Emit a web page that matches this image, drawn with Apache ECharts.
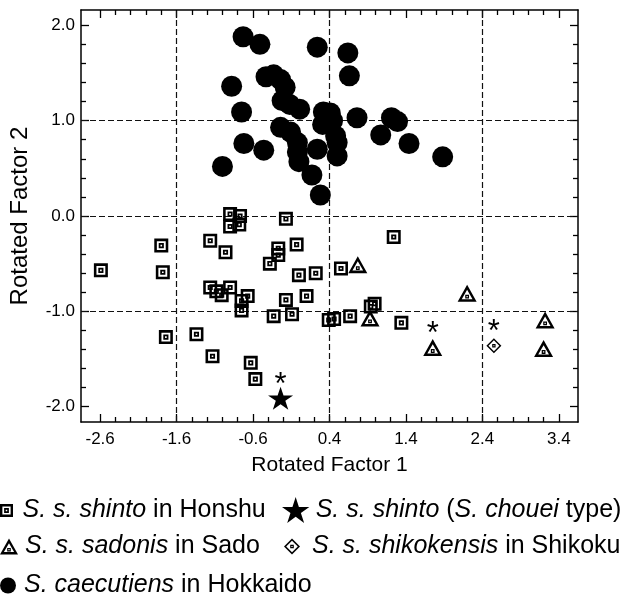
<!DOCTYPE html>
<html>
<head>
<meta charset="utf-8">
<script src="https://cdn.jsdelivr.net/npm/echarts@6/dist/echarts.min.js"></script>
<style>
html, body { margin: 0; padding: 0; background: #fff; }
#content { width: 635px; height: 601px; }
</style>
</head>
<body>
<div id="content"></div>
<script>
var chart = echarts.init(document.getElementById('content'));

// axis ticks / labels
var xLabels = [-2.6, -1.6, -0.6, 0.4, 1.4, 2.4, 3.4];
var yLabels = [-2.0, -1.0, 0.0, 1.0, 2.0];
var xGrid = [-1.6, 0.4, 2.4];
var yGrid = [-1.0, 0.0, 1.0];

// rotated factor scores [factor1, factor2]
var hokkaido = [
    [-0.73, 1.88], [-0.51, 1.80], [0.24, 1.77], [0.64, 1.71], [0.66, 1.47], [-0.88, 1.36],
    [-0.43, 1.46], [-0.33, 1.48], [-0.24, 1.43], [-0.18, 1.35], [-0.22, 1.21], [-0.12, 1.17], [0.01, 1.12],
    [-0.75, 1.09], [0.32, 1.09], [0.41, 1.08], [0.44, 1.00], [0.31, 0.96], [0.76, 1.03], [1.21, 1.03],
    [1.29, 0.99], [1.07, 0.85], [1.44, 0.76], [1.88, 0.62],
    [-0.24, 0.93], [-0.11, 0.88], [-0.02, 0.77], [-0.02, 0.67], [0.00, 0.57],
    [-0.72, 0.76], [-0.46, 0.69], [-1.00, 0.52], [0.24, 0.70], [0.48, 0.84], [0.50, 0.77],
    [0.50, 0.63], [0.17, 0.43], [0.28, 0.22]
];
var honshu = [
    [-2.59, -0.57], [-1.80, -0.31], [-1.78, -0.59], [-1.74, -1.27], [-1.34, -1.24], [-1.13, -1.47],
    [-1.16, -0.26], [-0.96, -0.38], [-0.90, 0.02], [-0.77, 0.00], [-0.90, -0.11], [-0.78, -0.09],
    [-0.17, -0.03], [-0.03, -0.30], [-0.27, -0.34], [-0.27, -0.41], [-0.38, -0.50], [0.00, -0.62],
    [0.22, -0.60], [0.55, -0.55], [-1.16, -0.75], [-1.08, -0.79], [-1.01, -0.83], [-0.90, -0.75],
    [-0.67, -0.84], [-0.75, -0.89], [-0.75, -0.99], [-0.17, -0.88], [0.10, -0.84], [-0.33, -1.05],
    [-0.09, -1.03], [0.39, -1.09], [0.46, -1.08], [0.67, -1.05], [-0.63, -1.54], [-0.57, -1.71],
    [1.24, -0.22], [0.94, -0.95], [0.99, -0.92], [1.34, -1.12]
];
var sado = [[0.77, -0.51], [0.93, -1.07], [2.20, -0.81], [1.75, -1.38], [3.22, -1.09], [3.20, -1.39]];
var sadoMarked = [false, false, false, true, false, false];
var shikoku = [[2.55, -1.36]];
var shikokuMarked = [true];
var chouei = [[-0.24, -1.91]];
var choueiMarked = [true];

var names = {
    honshu: 'S. s. shinto in Honshu',
    chouei: 'S. s. shinto (S. chouei type)',
    sado: 'S. s. sadonis in Sado',
    shikoku: 'S. s. shikokensis in Shikoku',
    hokkaido: 'S. caecutiens in Hokkaido'
};
var richNames = {};
richNames[names.honshu] = '{i|S. s. shinto} in Honshu';
richNames[names.chouei] = '{i|S. s. shinto} ({i|S. chouei} type)';
richNames[names.sado] = '{i|S. s. sadonis} in Sado';
richNames[names.shikoku] = '{i|S. s. shikokensis} in Shikoku';
richNames[names.hokkaido] = '{i|S. caecutiens} in Hokkaido';

// marker shapes (holes drawn with opposite winding)
var squareSym = 'path://M0 0H12V12H0Z M2.2 2.2V9.8H9.8V2.2Z M3.8 3.8H8.2V8.2H3.8Z M5.3 5.3V6.7H6.7V5.3Z';
var triSym = 'path://M9 0L18 16H0Z M9 4.8L3.9 13.6H14.1Z M7.2 9.4H10.8V13H7.2Z M8.4 10.6V11.8H9.6V10.6Z';
var diaSym = 'path://M8 0L16 8L8 16L0 8Z M8 2.2L2.2 8L8 13.8L13.8 8Z M6.2 6.2H9.8V9.8H6.2Z M7.4 7.4V8.6H8.6V7.4Z';
var starSym = 'path://M10 0L12.25 6.91L19.51 6.91L13.63 11.18L15.88 18.09L10 13.82L4.12 18.09L6.37 11.18L0.49 6.91L7.75 6.91Z';

var FONT = '"Liberation Sans", Arial, Helvetica, sans-serif';
var xMin = -2.85, xMax = 3.65, yMin = -2.16, yMax = 2.16;

function minorTicks(from, to, majors) {
    var out = [];
    for (var v = from; v <= to + 1e-9; v += 0.2) {
        var r = Math.round(v * 10) / 10;
        if (majors.indexOf(r) < 0) out.push(r);
    }
    return out;
}
var xMinor = minorTicks(-2.6, 3.4, xLabels);
var yMinor = minorTicks(-2.0, 2.0, yLabels);

var lineSt = { color: '#000', width: 1.5 };

function axis(type, pos, ticks, len, showLine, extra) {
    var a = {
        type: 'value',
        position: pos,
        min: type === 'x' ? xMin : yMin,
        max: type === 'x' ? xMax : yMax,
        axisLine: { show: showLine, onZero: false, lineStyle: lineSt },
        axisTick: { show: true, inside: true, length: len, customValues: ticks, lineStyle: { color: '#000', width: 1.3 } },
        axisLabel: { show: false },
        splitLine: { show: false },
        minorTick: { show: false }
    };
    return Object.assign(a, extra || {});
}

function marked(points, flags) {
    return points.map(function (p, i) {
        return flags[i] ? { value: p, label: { show: true } } : p;
    });
}

var starLabel = {
    show: false,
    formatter: '*',
    position: 'inside',
    offset: [0, -13],
    fontSize: 31,
    fontFamily: FONT,
    color: '#000'
};

var solid = { color: '#000', opacity: 1 };

var legendText = {
    fontSize: 25,
    fontFamily: FONT,
    color: '#000',
    rich: { i: { fontSize: 25, fontFamily: FONT, fontStyle: 'italic', color: '#000' } }
};
function legend(name, icon, left, top, w, h) {
    return {
        data: [{ name: name, icon: icon }],
        left: left, top: top, padding: 0,
        itemWidth: w, itemHeight: h,
        selectedMode: false,
        itemStyle: { opacity: 1 },
        textStyle: legendText,
        formatter: function (n) { return richNames[n]; }
    };
}

var option = {
    animation: false,
    backgroundColor: '#fff',
    grid: { left: 81, top: 10, width: 497, height: 412, containLabel: false },
    xAxis: [
        axis('x', 'bottom', xLabels, 8, true, {
            name: 'Rotated Factor 1',
            nameLocation: 'middle',
            nameGap: 33,
            nameTextStyle: { fontSize: 21, fontFamily: FONT, color: '#000' },
            axisLabel: {
                show: true, customValues: xLabels, margin: 9,
                fontSize: 17, fontFamily: FONT, color: '#000',
                formatter: function (v) { return v.toFixed(1); }
            }
        }),
        axis('x', 'bottom', xMinor, 5, false),
        axis('x', 'top', xLabels, 8, true),
        axis('x', 'top', xMinor, 5, false)
    ],
    yAxis: [
        axis('y', 'left', yLabels, 8, true, {
            name: 'Rotated Factor 2',
            nameLocation: 'middle',
            nameGap: 49,
            nameTextStyle: { fontSize: 24, fontFamily: FONT, color: '#000' },
            axisLabel: {
                show: true, customValues: yLabels, margin: 6,
                fontSize: 17, fontFamily: FONT, color: '#000',
                formatter: function (v) { return v.toFixed(1); }
            }
        }),
        axis('y', 'left', yMinor, 5, false),
        axis('y', 'right', yLabels, 8, true),
        axis('y', 'right', yMinor, 5, false)
    ],
    legend: [
        legend(names.honshu, squareSym, 0, 498, 22, 13),
        legend(names.chouei, starSym, 282, 497, 30, 26),
        legend(names.sado, triSym, 0, 534, 22, 16),
        legend(names.shikoku, diaSym, 284, 534, 30, 16),
        legend(names.hokkaido, 'circle', 0, 573, 22, 16)
    ],
    series: [
        {
            type: 'line',
            data: [],
            z: 1,
            markLine: {
                z: 1,
                silent: true,
                symbol: 'none',
                label: { show: false },
                lineStyle: { color: '#111', width: 1.2, type: [6, 3] },
                data: xGrid.map(function (v) { return { xAxis: v }; })
                    .concat(yGrid.map(function (v) { return { yAxis: v }; }))
            }
        },
        {
            name: names.hokkaido,
            type: 'scatter',
            symbol: 'circle',
            symbolSize: 21,
            itemStyle: solid,
            data: hokkaido
        },
        {
            name: names.honshu,
            type: 'scatter',
            symbol: squareSym,
            symbolSize: 14,
            itemStyle: solid,
            data: honshu
        },
        {
            name: names.sado,
            type: 'scatter',
            symbol: triSym,
            symbolSize: [19, 17],
            itemStyle: solid,
            label: starLabel,
            data: marked(sado, sadoMarked)
        },
        {
            name: names.shikoku,
            type: 'scatter',
            symbol: diaSym,
            symbolSize: 15,
            itemStyle: solid,
            label: starLabel,
            data: marked(shikoku, shikokuMarked)
        },
        {
            name: names.chouei,
            type: 'scatter',
            symbol: starSym,
            symbolSize: [25, 23],
            itemStyle: solid,
            label: starLabel,
            data: marked(chouei, choueiMarked)
        }
    ]
};

chart.setOption(option);
</script>
</body>
</html>
